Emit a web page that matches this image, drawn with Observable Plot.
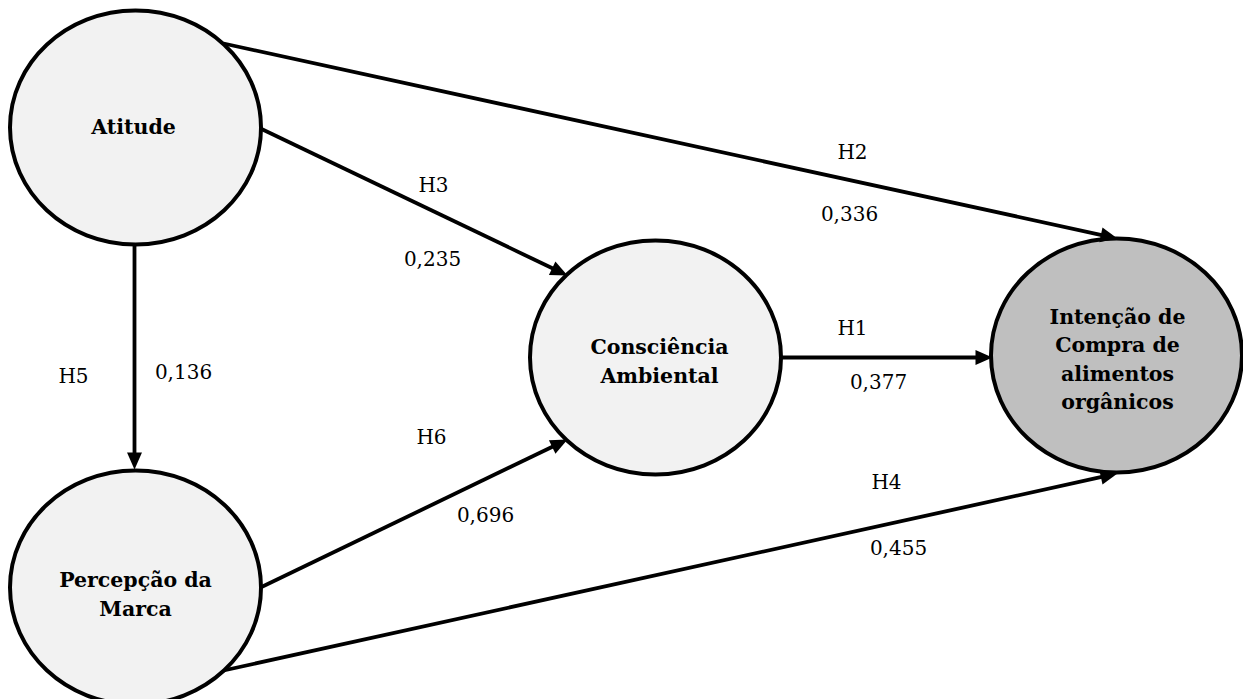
<!DOCTYPE html>
<html>
<head>
<meta charset="utf-8">
<script src="https://cdn.jsdelivr.net/npm/d3@7"></script>
<script src="https://cdn.jsdelivr.net/npm/@observablehq/plot@0.6"></script>
<style>
  html, body { margin: 0; padding: 0; background: #ffffff; }
  #chart svg { display: block; }
</style>
</head>
<body>
<div id="chart"></div>
<script>
// ---- Nodes (latent constructs) ----
const nodeNames = ["Atitude", "Percepção da\nMarca", "Consciência\nAmbiental", "Intenção de\nCompra de\nalimentos\norgânicos"];
const nodeX = [135, 135, 655, 1116];
const nodeY = [127, 587, 357, 355];
const nodeFill = ["#f2f2f2", "#f2f2f2", "#f2f2f2", "#bfbfbf"];
const nodeLabelX = [133, 135, 659, 1117];
const nodeLabelY = [124, 592, 359, 357];

// ---- Edges (hypotheses and path coefficients) ----
const edgeHyp = ["H1", "H2", "H3", "H4", "H5", "H6"];
const edgeCoef = ["0,377", "0,336", "0,235", "0,455", "0,136", "0,696"];
const edgeX1 = [780, 223, 260, 223, 134, 260];
const edgeY1 = [357, 43, 128, 670, 245, 587];
const edgeX2 = [992, 1117, 567, 1117, 134, 567];
const edgeY2 = [357, 238, 275, 473, 469, 439];
const hypLabelX = [852, 852, 433, 886, 73, 431];
const hypLabelY = [328, 152, 185, 482, 376, 437];
const coefLabelX = [878, 849, 432, 898, 183, 485];
const coefLabelY = [382, 214, 259, 548, 372, 515];

const W = 1243, H = 699;
const RX = 125.5, RY = 117;
const HEAD_LEN = 17, HEAD_W = 15;

const nodes = nodeNames.map((name, i) => ({
  name, x: nodeX[i], y: nodeY[i], fill: nodeFill[i], lx: nodeLabelX[i], ly: nodeLabelY[i]
}));

const edges = edgeHyp.map((h, i) => {
  const dx = edgeX2[i] - edgeX1[i], dy = edgeY2[i] - edgeY1[i];
  const len = Math.hypot(dx, dy);
  const ux = dx / len, uy = dy / len;
  return {
    hyp: h, coef: edgeCoef[i],
    x1: edgeX1[i], y1: edgeY1[i],
    x2: edgeX2[i], y2: edgeY2[i],
    xe: edgeX2[i] - ux * (HEAD_LEN - 2), ye: edgeY2[i] - uy * (HEAD_LEN - 2),
    angle: Math.atan2(dx, -dy) * 180 / Math.PI,
    hx: hypLabelX[i], hy: hypLabelY[i], cx: coefLabelX[i], cy: coefLabelY[i]
  };
});

// ellipse symbol (slightly flattened circle)
const ellipseSymbol = {
  draw(ctx, size) {
    const rx = Math.sqrt(size / Math.PI), ry = rx * (RY / RX);
    const k = 0.5522848;
    ctx.moveTo(rx, 0);
    ctx.bezierCurveTo(rx, k * ry, k * rx, ry, 0, ry);
    ctx.bezierCurveTo(-k * rx, ry, -rx, k * ry, -rx, 0);
    ctx.bezierCurveTo(-rx, -k * ry, -k * rx, -ry, 0, -ry);
    ctx.bezierCurveTo(k * rx, -ry, rx, -k * ry, rx, 0);
    ctx.closePath();
  }
};

// filled triangular arrowhead, tip at origin, pointing up
const headSymbol = {
  draw(ctx) {
    ctx.moveTo(0, 0);
    ctx.lineTo(-HEAD_W / 2, HEAD_LEN);
    ctx.lineTo(HEAD_W / 2, HEAD_LEN);
    ctx.closePath();
  }
};

const FONT = "DejaVu Serif";

const chart = Plot.plot({
  width: W,
  height: H,
  margin: 0,
  x: {domain: [0, W], range: [0, W], axis: null},
  y: {domain: [0, H], range: [0, H], axis: null},
  style: {fontFamily: FONT, background: "#ffffff", color: "#000000", overflow: "visible"},
  marks: [
    Plot.link(edges, {x1: "x1", y1: "y1", x2: "xe", y2: "ye", stroke: "#000000", strokeWidth: 3.8}),
    Plot.dot(nodes, {x: "x", y: "y", r: RX, symbol: ellipseSymbol, fill: "fill", stroke: "#000000", strokeWidth: 4}),
    Plot.dot(edges, {x: "x2", y: "y2", rotate: "angle", symbol: headSymbol, r: 5, fill: "#000000", stroke: "none"}),
    Plot.text(nodes, {x: "lx", y: "ly", text: "name", fontFamily: FONT, fontWeight: "bold", fontSize: 20.5, lineHeight: 1.38, fill: "#000000", textAnchor: "middle"}),
    Plot.text(edges, {x: "hx", y: "hy", text: "hyp", fontFamily: FONT, fontSize: 20, fill: "#000000", textAnchor: "middle"}),
    Plot.text(edges, {x: "cx", y: "cy", text: "coef", fontFamily: FONT, fontSize: 20, fill: "#000000", textAnchor: "middle"})
  ]
});

document.getElementById("chart").appendChild(chart);
</script>
</body>
</html>
